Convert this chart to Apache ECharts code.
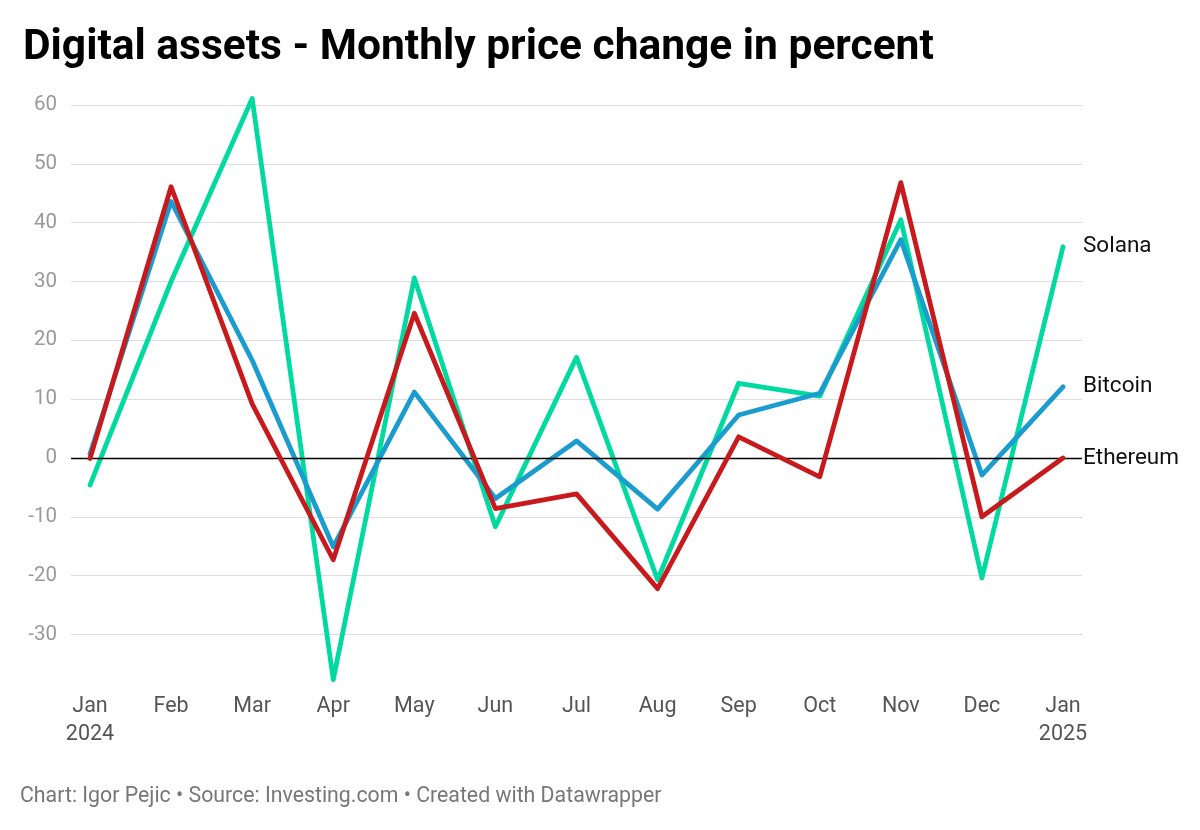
<!DOCTYPE html>
<html>
<head>
<meta charset="utf-8">
<script src="https://cdn.jsdelivr.net/npm/echarts@6/dist/echarts.min.js"></script>
<style>
html,body{margin:0;padding:0;background:#fff;}
#c{width:1200px;height:830px;}
</style>
</head>
<body>
<div id="c"></div>
<script>
const months = ['Jan\n2024','Feb','Mar','Apr','May','Jun','Jul','Aug','Sep','Oct','Nov','Dec','Jan\n2025'];
const solana   = [-4.6, 30.0, 61.1, -37.7, 30.6, -11.7, 17.1, -20.7, 12.7, 10.5, 40.5, -20.4, 35.9];
const bitcoin  = [0.7, 43.6, 16.6, -15.1, 11.2, -6.9, 2.9, -8.7, 7.3, 11.0, 37.1, -2.9, 12.1];
const ethereum = [-0.1, 46.1, 9.2, -17.3, 24.6, -8.6, -6.1, -22.2, 3.6, -3.2, 46.8, -10.0, 0.0];
const yMin = -40, yMax = 60, yStep = 10;

const FONT = 'Roboto, "Noto Sans", sans-serif';
const chart = echarts.init(document.getElementById('c'), null, {renderer:'canvas'});

function lineSeries(name, data, color, z){
  return {
    name, type:'line', data, xAxisIndex:0, yAxisIndex:0,
    symbol:'none', z, clip:false,
    lineStyle:{color, width:4.8, join:'round', cap:'round'},
    itemStyle:{color},
    endLabel:{show:true, formatter:name, distance:20, color:'#111', fontSize:22.5, fontFamily:FONT},
    emphasis:{disabled:true}
  };
}

chart.setOption({
  animation:false,
  backgroundColor:'#fff',
  title:{
    text:'Digital assets - Monthly price change in percent',
    left:18, top:22,
    textStyle:{fontFamily:FONT, fontWeight:'bold', fontSize:42.5, color:'#000'}
  },
  graphic:[{
    type:'text', left:20, top:786,
    style:{text:'Chart: Igor Pejic \u2022 Source: Investing.com \u2022 Created with Datawrapper',
      fill:'#777', font:'21.3px ' + FONT}
  }],
  grid:[
    {left:90, right:137, top:105, bottom:136.7},
    {left:71, right:118, top:105, bottom:136.7}
  ],
  xAxis:[
    {type:'category', gridIndex:0, data:months, boundaryGap:false,
     axisLine:{show:false}, axisTick:{show:false}, splitLine:{show:false},
     axisLabel:{interval:0, color:'#555', fontSize:21.5, fontFamily:FONT, margin:-1, lineHeight:28}},
    {type:'value', gridIndex:1, min:0, max:1, show:false}
  ],
  yAxis:[
    {type:'value', gridIndex:0, min:yMin, max:yMax, interval:yStep, show:false},
    {type:'value', gridIndex:1, min:yMin, max:yMax, interval:yStep,
     axisLine:{show:false}, axisTick:{show:false},
     splitLine:{show:true, showMinLine:false, lineStyle:{color:'#dddddd', width:1.2}},
     axisLabel:{showMinLabel:false, color:'#999', fontSize:20.5, fontFamily:FONT, margin:14}}
  ],
  series:[
    {type:'line', xAxisIndex:1, yAxisIndex:1, data:[], silent:true, z:1,
     markLine:{symbol:'none', silent:true, animation:false, label:{show:false},
       lineStyle:{color:'#000', width:1.3, type:'solid'}, data:[{yAxis:0}]}},
    lineSeries('Solana', solana, '#00d9a0', 3),
    lineSeries('Bitcoin', bitcoin, '#1a9ccf', 4),
    lineSeries('Ethereum', ethereum, '#c81a1c', 5)
  ]
});
</script>
</body>
</html>
